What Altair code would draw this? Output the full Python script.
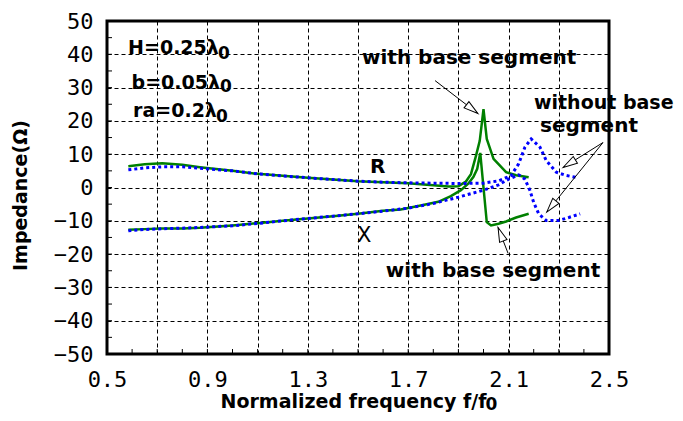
import math
import altair as alt
import pandas as pd

# ---------------- data ----------------
# with base segment (green, solid)
f_R_with = [0.585, 0.65, 0.72, 0.8, 0.87, 1.0, 1.1, 1.2, 1.3, 1.4, 1.5, 1.6, 1.7, 1.8, 1.86, 1.9,
            1.93, 1.95, 1.97, 1.985, 2.0, 2.013, 2.04, 2.09, 2.13, 2.18]
R_with = [6.4, 7.0, 7.3, 6.8, 6.1, 5.0, 4.1, 3.5, 2.9, 2.4, 1.9, 1.6, 1.3, 0.7, 0.3, 0.4,
          1.8, 4.0, 9.5, 14.0, 23.5, 14.6, 8.6, 4.6, 3.7, 3.1]

f_X_with = [0.585, 0.65, 0.72, 0.8, 0.87, 1.0, 1.1, 1.2, 1.3, 1.4, 1.5, 1.6, 1.67, 1.75, 1.82, 1.87,
            1.91, 1.94, 1.96, 1.975, 1.987, 2.0, 2.013, 2.03, 2.06, 2.09, 2.13, 2.18]
X_with = [-12.7, -12.5, -12.3, -12.3, -12.1, -11.4, -10.7, -10.0, -9.3, -8.6, -7.9, -7.0, -6.6, -5.4,
          -4.3, -2.6, -0.8, 1.2, 3.2, 5.6, 10.4, 0.0, -10.4, -11.4, -10.9, -10.2, -9.0, -7.9]

# without base segment (blue, dotted)
f_R_without = [0.585, 0.65, 0.72, 0.8, 0.87, 1.0, 1.1, 1.2, 1.3, 1.4, 1.5, 1.6, 1.7, 1.8, 1.9, 2.0,
               2.06, 2.11, 2.14, 2.165, 2.19, 2.225, 2.25, 2.29, 2.33, 2.37]
R_without = [5.3, 5.9, 6.2, 6.2, 5.8, 5.0, 4.1, 3.5, 2.9, 2.4, 1.9, 1.6, 1.4, 1.3, 1.2, 1.3,
             2.0, 3.6, 7.1, 12.1, 14.6, 12.1, 8.1, 4.6, 3.6, 3.0]

f_X_without = [0.585, 0.65, 0.72, 0.8, 0.87, 1.0, 1.1, 1.2, 1.3, 1.4, 1.5, 1.6, 1.7, 1.8, 1.9, 2.0,
               2.06, 2.1, 2.14, 2.165, 2.185, 2.2, 2.22, 2.25, 2.3, 2.34, 2.385]
X_without = [-13.0, -12.6, -12.4, -12.2, -12.0, -11.5, -10.8, -10.0, -9.3, -8.6, -7.9, -7.1, -6.2,
             -4.8, -2.9, -0.8, 0.8, 2.5, 3.8, 2.5, -0.9, -4.5, -7.9, -9.9, -9.9, -9.0, -7.9]

x_grid_vals = [0.5, 0.7, 0.9, 1.1, 1.3, 1.5, 1.7, 1.9, 2.1, 2.3, 2.5]
y_grid_vals = [-50, -40, -30, -20, -10, 0, 10, 20, 30, 40, 50]
x_minor = [0.6, 0.7, 0.8, 0.9, 1.0, 1.1, 1.2, 1.3, 1.4, 1.5, 1.6, 1.7, 1.8, 1.9, 2.0, 2.1, 2.2, 2.3, 2.4]
y_minor = [-45, -40, -35, -30, -25, -20, -15, -10, -5, 0, 5, 10, 15, 20, 25, 30, 35, 40, 45]

# annotations (data coordinates)
ann_text = ["H=0.25λ", "b=0.05λ", "ra=0.2λ", "with base segment", "segment",
            "R", "with base segment"]
ann_x = [0.584, 0.598, 0.604, 1.516, 2.225, 1.548, 1.611]
ann_y = [40.1, 29.6, 21.1, 37.2, 16.8, 4.5, -27.0]

ann2_text = ["without base"]
ann2_x = [2.201]
ann2_y = [23.7]

sub_text = ["0", "0", "0"]
sub_x = [0.942, 0.950, 0.934]
sub_y = [38.6, 28.6, 19.7]

xtitle_sub = ["0"]
xtitle_sub_x = [2.008]
xtitle_sub_y = [-66.9]

x_label_text = ["X"]
x_label_x = [1.496]
x_label_y = [-16.5]

# arrows: tail -> tip
arr_x1 = [1.807, 2.476, 2.476, 2.098]
arr_y1 = [32.1, 13.5, 13.5, -19.8]
arr_x2 = [1.978, 2.317, 2.252, 2.058]
arr_y2 = [22.2, 6.0, -7.4, -12.0]

# ---------------- chart ----------------
W, H = 502, 333
XD = [0.5, 2.5]
YD = [-50, 50]
pxx = W / (XD[1] - XD[0])
pxy = H / (YD[1] - YD[0])

rows = []
for case, comp, fs, vs in [("with", "R", f_R_with, R_with), ("with", "X", f_X_with, X_with),
                           ("without", "R", f_R_without, R_without), ("without", "X", f_X_without, X_without)]:
    for f, v in zip(fs, vs):
        rows.append({"f": f, "v": v, "case": case, "comp": comp})
df = pd.DataFrame(rows)

xs = alt.Scale(domain=XD, nice=False, zero=False)
ys = alt.Scale(domain=YD, nice=False, zero=False)

label_expr = ("abs((datum.value-0.5)/0.4 - round((datum.value-0.5)/0.4)) < 0.01 ? "
              "format(datum.value, '.1f') : ''")

x_axis = alt.Axis(values=x_grid_vals, grid=True, gridColor="#000000", gridDash=[4, 3], gridWidth=1,
                  ticks=False, domain=False, labelExpr=label_expr, labelFont="DejaVu Sans Mono",
                  labelFontSize=22, labelColor="#000000", labelPadding=15, labelFlush=False,
                  labelOverlap=False,
                  title="Normalized frequency f/f", titleFont="DejaVu Sans", titleFontSize=19,
                  titleFontWeight="bold", titleColor="#000000", titleX=246, titleY=53,
                  titleAlign="center", titleBaseline="alphabetic")
y_axis = alt.Axis(values=y_grid_vals, grid=True, gridColor="#000000", gridDash=[4, 3], gridWidth=1,
                  ticks=False, domain=False, format="d", labelFont="DejaVu Sans Mono",
                  labelFontSize=22, labelColor="#000000", labelPadding=14, labelFlush=False,
                  labelOverlap=False,
                  title="Impedance(Ω)", titleFont="DejaVu Sans", titleFontSize=19,
                  titleFontWeight="bold", titleColor="#000000", titleAngle=270, titleX=-87,
                  titleY=174, titleAlign="center", titleBaseline="middle")


def X(field):
    return alt.X(field, scale=xs, axis=x_axis)


def Y(field):
    return alt.Y(field, scale=ys, axis=y_axis)


green = alt.Chart(df[df["case"] == "with"]).mark_line(color="#008000", strokeWidth=2.5).encode(
    x=X("f:Q"), y=Y("v:Q"), detail="comp:N")
blue = alt.Chart(df[df["case"] == "without"]).mark_line(
    color="#0000FF", strokeWidth=3, strokeDash=[3, 3]).encode(
    x=X("f:Q"), y=Y("v:Q"), detail="comp:N")

xt = alt.Chart(pd.DataFrame({"f": x_minor})).mark_rule(color="#000000", strokeWidth=1).encode(
    x=X("f:Q"), y=alt.value(H), y2=alt.value(H - 5))
yt = alt.Chart(pd.DataFrame({"v": y_minor})).mark_rule(color="#000000", strokeWidth=1).encode(
    y=Y("v:Q"), x=alt.value(0), x2=alt.value(5))

angles = []
for a, b, c, d in zip(arr_x1, arr_y1, arr_x2, arr_y2):
    dx = (c - a) * pxx
    dy = -(d - b) * pxy
    angles.append(math.degrees(math.atan2(dx, -dy)) % 360)
arr = pd.DataFrame({"x1": arr_x1, "y1": arr_y1, "x2": arr_x2, "y2": arr_y2, "ang": angles})

shafts = alt.Chart(arr).mark_rule(color="#000000", strokeWidth=1).encode(
    x=X("x1:Q"), y=Y("y1:Q"), x2="x2:Q", y2="y2:Q")
heads = alt.Chart(arr).mark_point(
    shape="M0,0L0.55,2L-0.55,2Z", filled=True, fill="#FFFFFF", stroke="#000000",
    strokeWidth=1, opacity=1, size=210).encode(
    x=X("x2:Q"), y=Y("y2:Q"), angle=alt.Angle("ang:Q", scale=None))

ann = pd.DataFrame({"t": ann_text, "x": ann_x, "y": ann_y})
ann2 = pd.DataFrame({"t": ann2_text, "x": ann2_x, "y": ann2_y})
sub = pd.DataFrame({"t": sub_text, "x": sub_x, "y": sub_y})
xsub = pd.DataFrame({"t": xtitle_sub, "x": xtitle_sub_x, "y": xtitle_sub_y})
xl = pd.DataFrame({"t": x_label_text, "x": x_label_x, "y": x_label_y})


def texts(d, size, weight):
    return alt.Chart(d).mark_text(align="left", baseline="alphabetic", font="DejaVu Sans",
                                  fontSize=size, fontWeight=weight, color="#000000").encode(
        x=X("x:Q"), y=Y("y:Q"), text="t:N")


t1 = texts(ann.iloc[:3], 19, "bold")
t2 = texts(ann.iloc[3:], 20, "bold")
t2b = texts(ann2, 19, "bold")
t3 = texts(sub, 17, "bold")
t4 = texts(xl, 21, "normal")
t5 = texts(xsub, 17, "bold")

chart = alt.layer(green, blue, xt, yt, shafts, heads, t1, t2, t2b, t3, t4, t5).properties(
    width=W, height=H,
    autosize=alt.AutoSizeParams(type="none"),
    padding={"left": 99, "top": 13, "right": 66, "bottom": 59},
).configure_view(stroke="#000000", strokeWidth=3)

chart.save("out.html", embed_options={"renderer": "svg", "actions": False})
